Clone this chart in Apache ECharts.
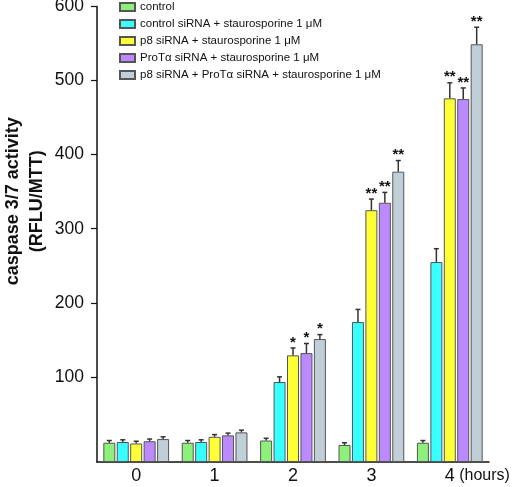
<!DOCTYPE html>
<html>
<head>
<meta charset="utf-8">
<script src="https://cdn.jsdelivr.net/npm/echarts@6/dist/echarts.min.js"></script>
<style>
  html, body { margin: 0; padding: 0; background: #fff; }
  #chart { width: 512px; height: 487px; }
</style>
</head>
<body>
<div id="chart"></div>
<script>
// ---- data ----
const categories = ['0', '1', '2', '3', '4'];
const seriesNames = [
  'control',
  'control siRNA + staurosporine 1 μM',
  'p8 siRNA + staurosporine 1 μM',
  'ProTα siRNA + staurosporine 1 μM',
  'p8 siRNA + ProTα siRNA + staurosporine 1 μM'
];
const controlValues    = [11, 11, 14, 8, 11];
const controlSiValues  = [12, 12, 93, 174, 255];
const p8Values         = [10, 19, 129, 325, 476];
const protValues       = [13, 21, 132, 335, 475];
const p8ProtValues     = [16, 25, 151, 377, 549];

const controlErr   = [3, 3, 3, 3, 3];
const controlSiErr = [3, 3, 7, 17, 18];
const p8Err        = [3, 3, 10, 15, 21];
const protErr      = [3, 3, 13, 14, 15];
const p8ProtErr    = [3, 3, 6, 15, 23];

const controlStars   = ['', '', '', '', ''];
const controlSiStars = ['', '', '', '', ''];
const p8Stars        = ['', '', '*', '**', '**'];
const protStars      = ['', '', '*', '**', '**'];
const p8ProtStars    = ['', '', '*', '**', '**'];

const yTickLabels = [100, 200, 300, 400, 500, 600];

// ---- styling ----
const colors = ['#8cf07a', '#38ffff', '#ffff38', '#bc8aff', '#c0ced7'];
const FONT = 'Liberation Sans';
const BAR_W = 12;
const GAP = 0.12;
const PITCH = BAR_W * (1 + GAP);

const allValues = [controlValues, controlSiValues, p8Values, protValues, p8ProtValues];
const allErr = [controlErr, controlSiErr, p8Err, protErr, p8ProtErr];
const allStars = [controlStars, controlSiStars, p8Stars, protStars, p8ProtStars];

const errData = [];
const errStars = [];
allValues.forEach((vals, s) => {
  vals.forEach((v, c) => {
    errData.push([c, v, allErr[s][c], s]);
    errStars.push(allStars[s][c]);
  });
});

const barSeries = allValues.map((vals, s) => ({
  name: seriesNames[s],
  type: 'bar',
  data: vals,
  barWidth: BAR_W,
  barGap: (GAP * 100) + '%',
  itemStyle: { color: colors[s], borderColor: '#555', borderWidth: 1 },
  z: 2
}));

const errSeries = {
  type: 'custom',
  data: errData,
  encode: { x: 0, y: 1 },
  z: 5,
  clip: false,
  silent: true,
  renderItem: function (params, api) {
    const c = api.value(0), v = api.value(1), e = api.value(2), s = api.value(3);
    const base = api.coord([c, v]);
    const top = api.coord([c, v + e]);
    const x = base[0] + (s - 2) * PITCH;
    const children = [
      { type: 'line', shape: { x1: x, y1: base[1], x2: x, y2: top[1] }, style: { stroke: '#333', lineWidth: 1.5 } },
      { type: 'line', shape: { x1: x - 2.5, y1: top[1], x2: x + 2.5, y2: top[1] }, style: { stroke: '#333', lineWidth: 1.5 } }
    ];
    const star = errStars[params.dataIndex];
    if (star) {
      children.push({
        type: 'text',
        style: {
          text: star, x: x, y: top[1] + 2,
          align: 'center', verticalAlign: 'bottom',
          font: 'bold 15px "Liberation Sans"', fill: '#111'
        }
      });
    }
    return { type: 'group', children: children };
  }
};

const chart = echarts.init(document.getElementById('chart'), null, { renderer: 'canvas' });
chart.setOption({
  animation: false,
  backgroundColor: '#fff',
  color: colors,
  grid: { left: 97, right: 23, top: 6.5, bottom: 25, containLabel: false, outerBoundsMode: 'none' },
  legend: {
    orient: 'vertical',
    left: 119,
    top: 1,
    padding: 0,
    itemWidth: 15,
    itemHeight: 8,
    itemGap: 5,
    itemTextGap: 8,
    icon: 'rect',
    textStyle: { fontFamily: FONT, fontSize: 11.5, color: '#111' },
    data: seriesNames
  },
  xAxis: {
    type: 'category',
    data: categories,
    axisLine: { onZero: false, lineStyle: { color: '#111', width: 1.5 } },
    axisTick: { show: false },
    axisLabel: {
      interval: 0,
      margin: 5,
      color: '#111',
      fontFamily: FONT,
      fontSize: 18,
      formatter: function (v, i) {
        return i === categories.length - 1 ? '{a|' + v + '}{b| (hours)}' : v;
      },
      rich: {
        a: { fontFamily: FONT, fontSize: 18, color: '#111', padding: [0, 0, 0, 55] },
        b: { fontFamily: FONT, fontSize: 16, color: '#111' }
      }
    }
  },
  yAxis: {
    type: 'value',
    min: -15,
    max: 600,
    startValue: -15,
    splitLine: { show: false },
    axisLine: { show: true, lineStyle: { color: '#111', width: 1.5 } },
    axisTick: { show: true, length: 6, customValues: yTickLabels, lineStyle: { color: '#111', width: 1.2 } },
    axisLabel: { customValues: yTickLabels, margin: 13, color: '#111', fontFamily: FONT, fontSize: 17.5 },
    name: 'caspase 3/7 activity\n(RFLU/MTT)',
    nameLocation: 'middle',
    nameRotate: 90,
    nameGap: 48,
    nameMoveOverlap: false,
    nameTextStyle: {
      fontFamily: FONT, fontWeight: 'bold', fontSize: 18, color: '#111',
      lineHeight: 24, padding: [0, 0, 0, 66]
    }
  },
  series: barSeries.concat([errSeries])
});
</script>
</body>
</html>
